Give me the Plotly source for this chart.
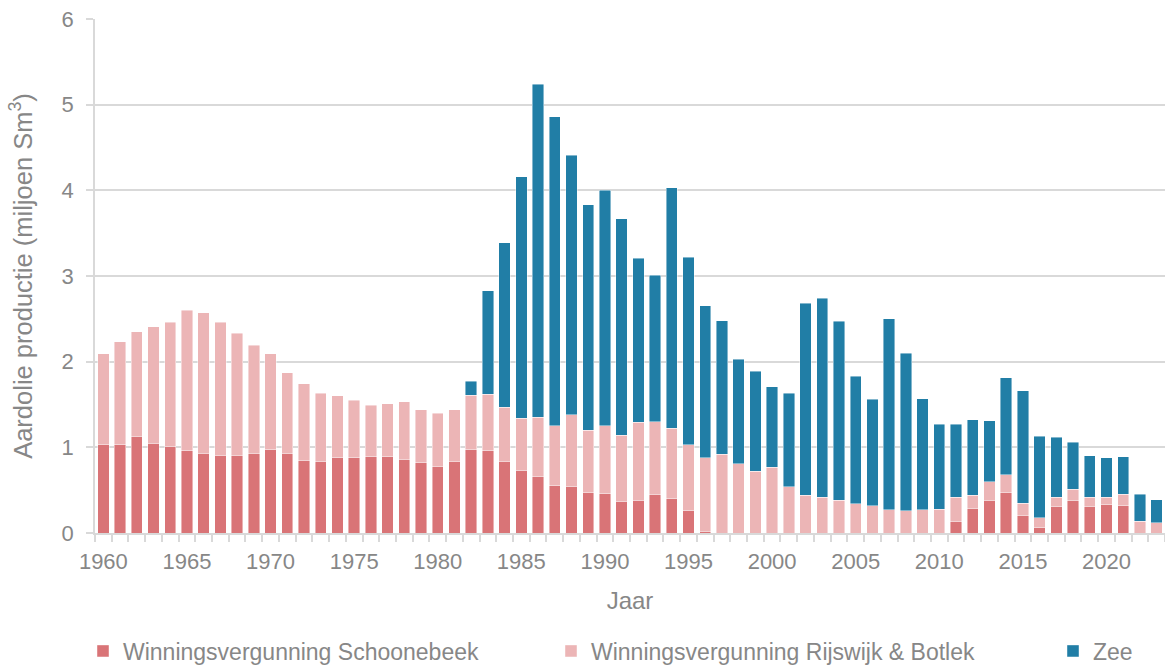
import plotly.graph_objects as go

# Jaarlijkse aardolieproductie per winningsgebied (miljoen Sm3)
years = list(range(1960, 2024))

schoonebeek = [
    1.03, 1.03, 1.13, 1.05, 1.01, 0.96, 0.93, 0.91, 0.91, 0.93,   # 1960-1969
    0.97, 0.93, 0.85, 0.84, 0.88, 0.88, 0.89, 0.89, 0.86, 0.82,   # 1970-1979
    0.78, 0.84, 0.98, 0.96, 0.84, 0.73, 0.66, 0.55, 0.54, 0.47,   # 1980-1989
    0.46, 0.37, 0.38, 0.45, 0.40, 0.26, 0.02, 0.00, 0.00, 0.00,   # 1990-1999
    0.00, 0.00, 0.00, 0.00, 0.00, 0.00, 0.00, 0.00, 0.00, 0.00,   # 2000-2009
    0.00, 0.14, 0.29, 0.38, 0.47, 0.21, 0.06, 0.31, 0.38, 0.31,   # 2010-2019
    0.33, 0.32, 0.00, 0.00,                                       # 2020-2023
]

rijswijk_botlek = [
    1.06, 1.20, 1.22, 1.36, 1.45, 1.64, 1.64, 1.55, 1.42, 1.26,
    1.12, 0.94, 0.89, 0.79, 0.72, 0.67, 0.60, 0.62, 0.67, 0.62,
    0.62, 0.60, 0.63, 0.66, 0.63, 0.61, 0.69, 0.70, 0.84, 0.73,
    0.79, 0.77, 0.91, 0.85, 0.82, 0.77, 0.86, 0.92, 0.81, 0.72,
    0.77, 0.54, 0.44, 0.42, 0.38, 0.34, 0.32, 0.27, 0.26, 0.27,
    0.28, 0.28, 0.15, 0.22, 0.21, 0.14, 0.12, 0.11, 0.13, 0.11,
    0.09, 0.13, 0.14, 0.12,
]

zee = [
    0.00, 0.00, 0.00, 0.00, 0.00, 0.00, 0.00, 0.00, 0.00, 0.00,
    0.00, 0.00, 0.00, 0.00, 0.00, 0.00, 0.00, 0.00, 0.00, 0.00,
    0.00, 0.00, 0.16, 1.21, 1.92, 2.82, 3.89, 3.61, 3.03, 2.63,
    2.75, 2.53, 1.92, 1.71, 2.81, 2.19, 1.77, 1.56, 1.22, 1.17,
    0.94, 1.09, 2.24, 2.32, 2.09, 1.49, 1.24, 2.23, 1.84, 1.30,
    0.99, 0.85, 0.88, 0.71, 1.13, 1.31, 0.95, 0.70, 0.55, 0.48,
    0.46, 0.44, 0.31, 0.27,
]

series_names = [
    "Winningsvergunning Schoonebeek",
    "Winningsvergunning Rijswijk & Botlek",
    "Zee",
]
series_colors = ["#D97477", "#ECB5B6", "#217EA6"]

y_ticks = [0, 1, 2, 3, 4, 5, 6]
x_ticks = list(range(1960, 2021, 5))

TEXT = "#878787"
GRID = "#D9D9D9"
FONT = "Liberation Sans, Arial, sans-serif"
W, H = 1165, 670

fig = go.Figure()
legend_ids = ["legend", "legend2", "legend3"]
for name, vals, color, lg in zip(series_names, [schoonebeek, rijswijk_botlek, zee],
                                 series_colors, legend_ids):
    fig.add_trace(go.Bar(
        x=years,
        y=[v if v > 0 else None for v in vals],
        name=name,
        legend=lg,
        width=0.68,
        marker=dict(color=color, line=dict(color="rgba(255,255,255,0.55)", width=0.8)),
    ))

legend_style = dict(
    orientation="h", xref="container", yref="container",
    xanchor="left", yanchor="middle",
    font=dict(family=FONT, size=23, color=TEXT),
    bgcolor="rgba(0,0,0,0)", borderwidth=0, itemwidth=30,
    itemclick=False, itemdoubleclick=False,
)
legend_y = 1 - 651 / H

fig.update_layout(
    width=W, height=H,
    barmode="stack",
    bargap=0.32,
    paper_bgcolor="white",
    plot_bgcolor="white",
    font=dict(family=FONT, size=22, color=TEXT),
    margin=dict(l=95, r=0, t=19, b=137),
    showlegend=True,
    legend=dict(legend_style, x=83 / W, y=legend_y),
    legend2=dict(legend_style, x=551 / W, y=legend_y),
    legend3=dict(legend_style, x=1053 / W, y=legend_y),
    xaxis=dict(
        range=[1959.5, 2023.5],
        tickmode="array", tickvals=x_ticks, ticktext=[str(t) for t in x_ticks],
        ticks="", showgrid=False,
        showline=True, linecolor=GRID, linewidth=1.5,
        tickfont=dict(family=FONT, size=22, color=TEXT),
        ticklabelstandoff=8,
        minor=dict(tick0=1959.5, dtick=1, ticks="outside", ticklen=7,
                   tickcolor=GRID, tickwidth=1.5, showgrid=False),
        title=dict(text="Jaar", font=dict(family=FONT, size=24, color=TEXT), standoff=19),
        fixedrange=True,
    ),
    yaxis=dict(
        range=[0, 6],
        tickmode="array", tickvals=y_ticks, ticktext=[str(t) for t in y_ticks],
        showgrid=True, gridcolor=GRID, gridwidth=1.5,
        zeroline=False,
        showline=True, linecolor=GRID, linewidth=1.5,
        ticks="outside", ticklen=7, tickcolor=GRID, tickwidth=1.5,
        ticklabelstandoff=8,
        tickfont=dict(family=FONT, size=22, color=TEXT),
        title=dict(text="Aardolie productie (miljoen Sm<sup>3</sup>)",
                   font=dict(family=FONT, size=25.5, color=TEXT), standoff=22),
        fixedrange=True,
    ),
)

fig.write_html("out.html", config={"displayModeBar": False})
